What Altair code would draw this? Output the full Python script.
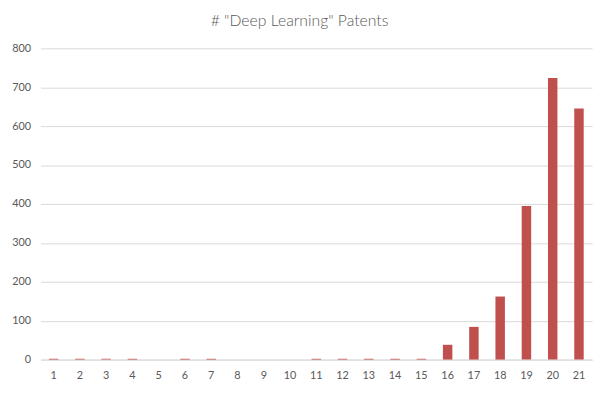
import altair as alt
import pandas as pd

years = [str(i) for i in range(1, 22)]
patents = [2, 2, 2, 2, 0, 2, 2, 0, 0, 0, 2, 2, 2, 2, 2, 38, 84, 162, 395, 724, 645]

df = pd.DataFrame({"year": years, "patents": patents})

FONT = "Lato"
GRAY = "#595959"

chart = alt.Chart(df).mark_bar(color="#C0504D").encode(
    x=alt.X("year:N", sort=years, title=None,
            scale=alt.Scale(paddingInner=0.64, paddingOuter=0.32),
            axis=alt.Axis(labelAngle=0, ticks=False, domain=True, domainColor="#D9D9D9",
                          labelColor=GRAY, labelFont=FONT, labelFontSize=11, labelPadding=10)),
    y=alt.Y("patents:Q", title=None,
            scale=alt.Scale(domain=[0, 800], nice=False),
            axis=alt.Axis(values=[0, 100, 200, 300, 400, 500, 600, 700, 800], ticks=False,
                          domain=False, gridColor="#D9D9D9", labelColor=GRAY,
                          labelFont=FONT, labelFontSize=11, labelPadding=10)),
).properties(
    width=560, height=316,
    title=alt.TitleParams('# "Deep Learning" Patents', font=FONT, fontSize=16,
                          fontWeight=300, color=GRAY, anchor="middle", dx=-17, offset=14),
    autosize=alt.AutoSizeParams(type="none"),
    padding={"left": 33, "top": 38, "right": 7, "bottom": 30},
).configure_view(stroke=None)

chart.save("out.html", embed_options={"renderer": "svg", "actions": False})
